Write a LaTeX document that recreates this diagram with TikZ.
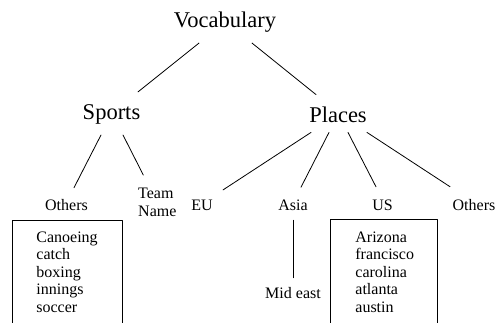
\documentclass[tikz,border=0pt]{standalone}
\usepackage{fontspec}
\setmainfont{Liberation Serif}
\usetikzlibrary{positioning}

\tikzset{
  bigword/.style={inner sep=0pt, anchor=base, font=\fontsize{22.5}{26}\selectfont},
  smallword/.style={inner sep=0pt, anchor=base, font=\fontsize{16}{18}\selectfont},
  wordlist/.style={draw, line width=0.8pt, anchor=north west, align=left,
    font=\fontsize{16}{17.5}\selectfont},
  branch/.style={line width=0.8pt}
}

\begin{document}
\begin{tikzpicture}[x=1pt, y=-1pt, line cap=round, line join=round]
  \useasboundingbox (0, 0) rectangle (495, 322);
  \clip (0, 0) rectangle (495, 322);
  %--- Root
    \node[bigword] (vocab) at (225, 27) {Vocabulary};
  %--- Second level
    \node[bigword] (sports) at (111.5, 119) {Sports};
    \node[bigword] (places) at (338, 122) {Places};
  %--- Sports children
    \node[smallword] (othersL) at (66.5, 210) {Others};
    \node[smallword, anchor=north west, align=left, font=\fontsize{16}{18}\selectfont] (team) at (138, 187.4) {Team\\Name};
  %--- Places children
    \node[smallword] (eu) at (202, 210) {EU};
    \node[smallword] (asia) at (293, 210) {Asia};
    \node[smallword] (us) at (382.5, 210) {US};
    \node[smallword] (othersR) at (474, 210) {Others};
    \node[smallword] (mideast) at (293, 298) {Mid east};
  %--- Word lists
    \node[wordlist, inner xsep=24pt, inner ysep=11pt, text width=62pt] (sportsList) at (12, 220)
      {Canoeing\\catch\\boxing\\innings\\soccer};
    \node[wordlist, inner xsep=25pt, inner ysep=12pt, text width=57pt] (usList) at (330, 219)
      {Arizona\\francisco\\carolina\\atlanta\\austin};
  %--- Branches
    \draw[branch] ([xshift=-26pt, yshift=-11pt]vocab.south) -- ([xshift=26.5pt, yshift=12pt]sports.north);
    \draw[branch] ([xshift=27pt, yshift=-11pt]vocab.south) -- ([xshift=-22pt, yshift=11.6pt]places.north);
    \draw[branch] ([xshift=-10.5pt, yshift=-11pt]sports.south) -- ([xshift=7.5pt, yshift=11pt]othersL.north);
    \draw[branch] ([xshift=11.5pt, yshift=-11pt]sports.south) -- ([xshift=-14pt, yshift=12.4pt]team.north);
    \draw[branch] ([xshift=-27pt, yshift=-10pt]places.south) -- ([xshift=21pt, yshift=9.4pt]eu.north);
    \draw[branch] ([xshift=-9pt, yshift=-10pt]places.south) -- ([xshift=8pt, yshift=12pt]asia.north);
    \draw[branch] ([xshift=10pt, yshift=-10pt]places.south) -- ([xshift=-6.5pt, yshift=12.4pt]us.north);
    \draw[branch] ([xshift=29pt, yshift=-10pt]places.south) -- ([xshift=-24pt, yshift=12pt]othersR.north);
    \draw[branch] ([yshift=-10pt]asia.south) -- ([yshift=9pt]mideast.north);
\end{tikzpicture}
\end{document}
